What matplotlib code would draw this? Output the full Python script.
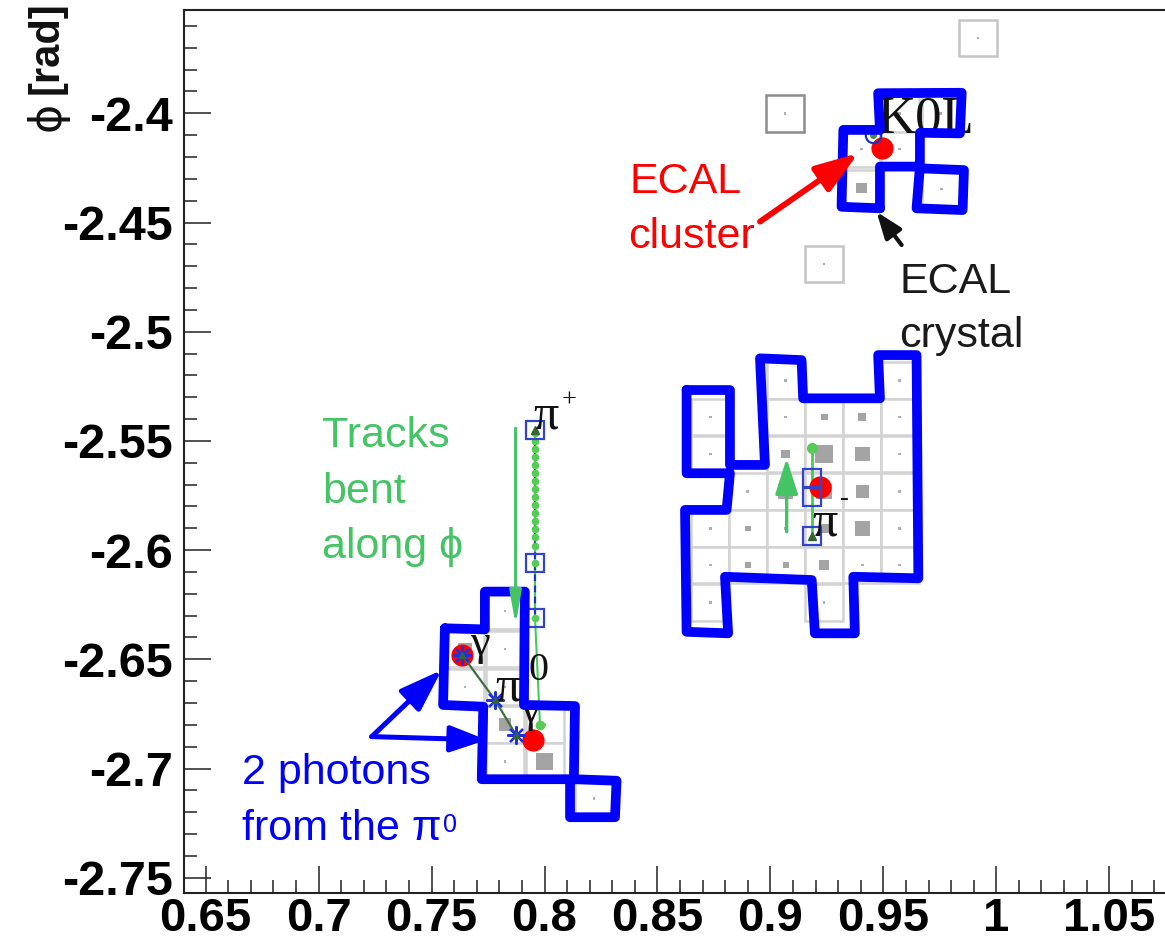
import matplotlib
matplotlib.use('Agg')
import matplotlib.pyplot as plt
from matplotlib.patches import Rectangle
from matplotlib.ticker import MultipleLocator, FuncFormatter

plt.rcParams['font.family'] = ['Liberation Sans', 'DejaVu Sans']
SERIF = ['Liberation Serif', 'DejaVu Serif']

# ECAL crystal pitch in eta / phi
cell = 0.0168

# pi- cluster crystals: centre (eta, phi) and deposit size (fraction of crystal, 0 = empty)
pim_eta = [0.8734, 0.8734, 0.8734, 0.8734, 0.8734,
           0.8900, 0.8900, 0.8900,
           0.9068, 0.9068, 0.9068, 0.9068, 0.9068, 0.9068,
           0.9238, 0.9238, 0.9238, 0.9238, 0.9238, 0.9238,
           0.9407, 0.9407, 0.9407, 0.9407, 0.9407,
           0.9573, 0.9573, 0.9573, 0.9573, 0.9573, 0.9573]
pim_phi = [-2.5391, -2.5560, -2.5901, -2.6068, -2.6240,
           -2.5731, -2.5901, -2.6068,
           -2.5223, -2.5391, -2.5560, -2.5731, -2.5901, -2.6068,
           -2.5391, -2.5560, -2.5731, -2.5901, -2.6068, -2.6240,
           -2.5391, -2.5560, -2.5731, -2.5901, -2.6068,
           -2.5223, -2.5391, -2.5560, -2.5731, -2.5901, -2.6068]
pim_dep = [0, 0, 0, 0, 0,
           0, 0.16, 0.16,
           0, 0, 0.24, 0.40, 0, 0.16,
           0.18, 0.47, 0.42, 0.26, 0.26, 0,
           0.21, 0.40, 0.34, 0.40, 0,
           0, 0, 0, 0, 0, 0]

# pi0 cluster crystals
pi0_eta = [0.7825, 0.7648, 0.7825, 0.7648, 0.7825, 0.7825, 0.8002, 0.7825, 0.8002, 0.8219]
pi0_phi = [-2.6279, -2.6453, -2.6453, -2.6627, -2.6627, -2.6799, -2.6799, -2.6968, -2.6968, -2.7137]
pi0_dep = [0, 0.35, 0, 0, 0, 0.34, 0, 0, 0.45, 0]

# K0L cluster crystals
k0l_eta = [0.9403, 0.9403, 0.9573, 0.9573, 0.9753, 0.9757]
k0l_phi = [-2.4163, -2.4342, -2.4163, -2.4000, -2.4000, -2.4347]
k0l_dep = [0, 0.27, 0, 0, 0, 0]

# isolated crystals with no cluster
iso_eta = [0.9064, 0.9919, 0.9237]
iso_phi = [-2.4000, -2.3655, -2.4690]

# hand drawn cluster contours
pim_line_eta = [0.8629, 0.8821, 0.8821, 0.8976, 0.8954, 0.9138, 0.9145, 0.9485, 0.9477, 0.9647,
                0.9655, 0.9367, 0.9374, 0.9197, 0.9183, 0.8799, 0.8813, 0.8629, 0.8622, 0.8806,
                0.8821, 0.8629, 0.8629]
pim_line_phi = [-2.5267, -2.5267, -2.5610, -2.5610, -2.5122, -2.5130, -2.5305, -2.5305, -2.5107, -2.5107,
                -2.6129, -2.6122, -2.6381, -2.6381, -2.6137, -2.6122, -2.6381, -2.6374, -2.5816, -2.5816,
                -2.5648, -2.5648, -2.5267]
k0l_line_eta = [0.9485, 0.9485, 0.9662, 0.9647, 0.9851, 0.9857, 0.9662, 0.9662, 0.9839, 0.9847,
                0.9477, 0.9485, 0.9323, 0.9315, 0.9485]
k0l_line_phi = [-2.4435, -2.4244, -2.4244, -2.4435, -2.4443, -2.4260, -2.4252, -2.4089, -2.4092, -2.3906,
                -2.3908, -2.4076, -2.4076, -2.4428, -2.4435]
pi0_line_eta = [0.7559, 0.7736, 0.7736, 0.7913, 0.7909, 0.8135, 0.8130, 0.8319, 0.8312, 0.8113,
                0.8113, 0.7722, 0.7729, 0.7551, 0.7559]
pi0_line_phi = [-2.6358, -2.6363, -2.6190, -2.6190, -2.6709, -2.6714, -2.7049, -2.7056, -2.7223, -2.7223,
                -2.7049, -2.7049, -2.6717, -2.6709, -2.6358]

# tracks: pi+ and pi-
pip_eta = 0.7958
pip_pts = [-2.5464, -2.5500, -2.5537, -2.5573, -2.5610, -2.5647, -2.5684, -2.5720,
           -2.5757, -2.5793, -2.5830, -2.5867, -2.5903, -2.5940, -2.5981, -2.6059, -2.6311]
pip_hits = [-2.5450, -2.6059, -2.6311]
pip_end = (0.7980, -2.6800)
pim_trk_eta = 0.9183
pim_trk_top = -2.5534
pim_hits = [-2.5671, -2.5758, -2.5935]

# reconstructed ECAL clusters (eta, phi)
clu_eta = [0.9219, 0.9492, 0.7635, 0.7949]
clu_phi = [-2.5711, -2.4160, -2.6480, -2.6870]

# photon chain of the pi0
gam_eta = [0.7635, 0.7781, 0.7874]
gam_phi = [-2.6480, -2.6686, -2.6846]
k0l_pt = (0.9455, -2.4099)

fig = plt.figure(figsize=(11.65, 9.46), dpi=100)
ax = fig.add_axes([184 / 1165, 53 / 946, 981 / 1165, 883 / 946])
ax.set_xlim(0.6404, 1.0747)
ax.set_ylim(-2.757, -2.3527)


def draw_crystals(etas, phis, deps, edge='#d3d3d3'):
    for e, p, d in zip(etas, phis, deps):
        ax.add_patch(Rectangle((e - cell / 2, p - cell / 2), cell, cell, fc='white',
                               ec=edge, lw=1.8, zorder=1))
        s = cell * (d if d > 0 else 0.07)
        ax.add_patch(Rectangle((e - s / 2, p - s / 2), s, s, fc='#a4a4a4' if d > 0 else '#b0b0b0',
                               ec='none', zorder=2))


draw_crystals(pim_eta, pim_phi, pim_dep)
draw_crystals(pi0_eta, pi0_phi, pi0_dep)
draw_crystals(k0l_eta, k0l_phi, k0l_dep)
draw_crystals(iso_eta[:1], iso_phi[:1], [0], edge='#8c8c8c')
draw_crystals(iso_eta[1:], iso_phi[1:], [0, 0], edge='#c4c4c4')

# pi+ track
ax.plot([pip_eta, pip_eta, pip_end[0]], [pip_hits[0], pip_hits[-1], pip_end[1]],
        color='#44cc55', lw=1.5, zorder=3)
ax.plot([pip_eta, pip_eta], [pip_hits[0], pip_hits[-1]], color='#2233bb', lw=1.6,
        ls=(0, (3, 2)), zorder=4)
ax.plot([pip_eta] * len(pip_pts), pip_pts, 'o', color='#55cc55', ms=4.5, zorder=4)
ax.plot(pip_end[0], pip_end[1], 'o', color='#55cc55', ms=6, zorder=4)
ax.plot([pip_eta] * 3, pip_hits, 's', mfc='none', mec='#3344cc', mew=1.6, ms=13, zorder=5)
ax.plot(pip_eta, pip_hits[0], '^', color='#336633', ms=6, zorder=5)

# pi- track
ax.plot([pim_trk_eta, pim_trk_eta], [pim_trk_top, pim_hits[-1]], color='#44cc55', lw=2, zorder=3)
ax.plot(pim_trk_eta, pim_trk_top, 'o', color='#55cc55', ms=7, zorder=4)

# clusters
ax.plot(clu_eta, clu_phi, 'o', color='red', ms=16, mec='none', zorder=5)
ax.plot([pim_trk_eta] * 3, pim_hits, 's', mfc='none', mec='#3344cc', mew=1.6, ms=13, zorder=6)
ax.plot(pim_trk_eta, pim_hits[-1], '^', color='#336633', ms=6, zorder=6)

# photons from the pi0
ax.plot(gam_eta, gam_phi, '-', color='#3f6f3f', lw=1.6, zorder=6)
ax.plot(gam_eta, gam_phi, marker=(8, 2, 0), ls='none', color='#2030dd', ms=13, mew=1.6, zorder=7)
ax.plot(gam_eta, gam_phi, '^', color='#336633', ms=5, zorder=7)
ax.plot(*k0l_pt, 'o', mfc='none', mec='#2233bb', mew=1.6, ms=11, zorder=6)
ax.plot(*k0l_pt, 'o', color='#4a8a4a', ms=4, zorder=6)

# particle labels
lab = dict(family=SERIF, color='#111111', zorder=8, va='baseline', ha='left')
ax.text(0.9474, -2.4090, 'K0L', fontsize=38, **lab)
ax.text(0.7949, -2.5441, 'π', fontsize=36, **lab)
ax.text(0.8077, -2.5313, '+', fontsize=19, **dict(lab, va='center'))
ax.text(0.9184, -2.5931, 'π', fontsize=36, **lab)
ax.text(0.9308, -2.5766, '-', fontsize=19, **dict(lab, va='center'))
ax.text(0.7781, -2.6688, 'π', fontsize=36, **lab)
ax.text(0.7927, -2.6596, '0', fontsize=29, **lab)
ax.text(0.7670, -2.6480, 'γ', fontsize=32, **lab)
ax.text(0.7891, -2.6787, 'γ', fontsize=32, **lab)

# cluster contours
for xs, ys in [(pim_line_eta, pim_line_phi), (k0l_line_eta, k0l_line_phi), (pi0_line_eta, pi0_line_phi)]:
    ax.plot(xs, ys, color='#0000ff', lw=7, solid_joinstyle='round', solid_capstyle='round', zorder=9)


def arrow(tail, tip, color, lw, hl, hw):
    ax.annotate('', xy=tip, xytext=tail, zorder=10,
                arrowprops=dict(arrowstyle='-|>,head_length=%g,head_width=%g' % (hl, hw),
                                mutation_scale=1, color=color, lw=lw, shrinkA=0, shrinkB=0))


arrow((0.8954, -2.4496), (0.9389, -2.4183), 'red', 4.2, 26, 9)
arrow((0.9581, -2.4603), (0.9470, -2.4451), '#111111', 3.0, 16, 6)
arrow((0.7872, -2.5442), (0.7872, -2.6343), '#44c464', 2.2, 20, 3.5)
arrow((0.9072, -2.5916), (0.9072, -2.5580), '#44c464', 2.4, 22, 7)
arrow((0.7235, -2.6854), (0.7545, -2.6549), '#0000ff', 3.6, 26, 9)
arrow((0.7235, -2.6854), (0.7744, -2.6869), '#0000ff', 3.6, 22, 8)

# annotations
note = dict(fontsize=31, va='baseline', ha='left', zorder=11)
ax.text(0.8378, -2.4366, 'ECAL', color='red', **note)
ax.text(0.8370, -2.4617, 'cluster', color='red', **note)
ax.text(0.9573, -2.4823, 'ECAL', color='#1a1a1a', **note)
ax.text(0.9569, -2.5070, 'crystal', color='#1a1a1a', **note)
ax.text(0.7015, -2.5528, 'Tracks', color='#44c464', **note)
ax.text(0.7015, -2.5784, 'bent', color='#44c464', **note)
ax.text(0.7015, -2.6036, 'along ϕ', color='#44c464', **note)
ax.text(0.6659, -2.7071, '2 photons', color='#0000ff', **note)
t = ax.text(0.6659, -2.7328, 'from the π', color='#0000ff', **note)
ax.annotate('0', xy=(1, 1), xycoords=t, xytext=(1, -3), textcoords='offset points',
            ha='left', va='top', fontsize=18, color='#0000ff', zorder=11)

# axes in ROOT style
ax.xaxis.set_major_locator(MultipleLocator(0.05))
ax.xaxis.set_minor_locator(MultipleLocator(0.01))
ax.yaxis.set_major_locator(MultipleLocator(0.05))
ax.yaxis.set_minor_locator(MultipleLocator(0.01))
fmt = FuncFormatter(lambda v, p: '%g' % round(v, 4))
ax.xaxis.set_major_formatter(fmt)
ax.yaxis.set_major_formatter(fmt)
ax.tick_params(which='both', direction='in', top=False, right=False, width=1.1, color='#222222')
ax.tick_params(which='major', length=19.5)
ax.tick_params(which='minor', length=9.5)
ax.tick_params(axis='x', which='major', pad=3, labelsize=34)
ax.tick_params(axis='y', which='major', pad=8, labelsize=35)
for lbl in ax.get_xticklabels() + ax.get_yticklabels():
    lbl.set_fontweight('bold')
ax.spines['right'].set_visible(False)
for s in ['left', 'bottom', 'top']:
    ax.spines[s].set_linewidth(1.5)
    ax.spines[s].set_color('#222222')

fig.text(47 / 1165, 1 - 1 / 946, '[rad]', rotation=90, ha='center', va='top',
         fontsize=30, fontweight='bold', color='#111111')
fig.text(47 / 1165, 1 - 102 / 946, 'ϕ', rotation=90, ha='center', va='top',
         fontsize=32, color='#111111', family=['DejaVu Sans'])

fig.savefig('out.png', dpi=100)
